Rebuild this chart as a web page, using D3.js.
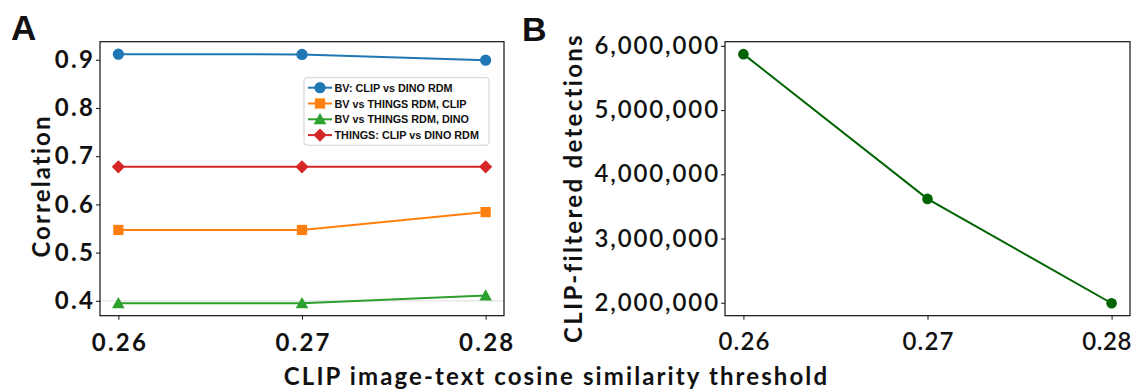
<!DOCTYPE html>
<html>
<head>
<meta charset="utf-8">
<script src="https://cdn.jsdelivr.net/npm/d3@7"></script>
<style>
  html, body { margin: 0; padding: 0; background: #fff; }
  svg { display: block; }
  .tick text { fill: #111; }
</style>
</head>
<body>
<svg id="fig" width="1133" height="392"></svg>
<script>
// Thresholds on the CLIP image-text cosine similarity
const thresholds = [0.26, 0.27, 0.28];

// Panel A: RDM correlations per threshold
const bvClipVsDino = [0.9116, 0.911, 0.899];
const bvVsThingsClip = [0.547, 0.547, 0.584];
const bvVsThingsDino = [0.395, 0.395, 0.411];
const thingsClipVsDino = [0.678, 0.678, 0.678];

const seriesNames = [
  "BV: CLIP vs DINO RDM",
  "BV vs THINGS RDM, CLIP",
  "BV vs THINGS RDM, DINO",
  "THINGS: CLIP vs DINO RDM"
];

// Panel B: number of detections that survive the CLIP filter
const detections = [5871000, 3617000, 1992000];

const xTickLabels = ["0.26", "0.27", "0.28"];
const yTicksA = [0.4, 0.5, 0.6, 0.7, 0.8, 0.9];
const yTicksB = [2000000, 3000000, 4000000, 5000000, 6000000];

const svg = d3.select("#fig");
const tickFont = "Lato, 'DejaVu Sans', sans-serif";

// padded extent, 5% on each side
function padded(vals) {
  const [lo, hi] = d3.extent(vals);
  const m = (hi - lo) * 0.05;
  return [lo - m, hi + m];
}

const plotTop = 41.7, plotBottom = 315.7;
const xDomain = padded(thresholds);

function frame(g, x0, x1) {
  g.append("rect")
    .attr("x", x0).attr("y", plotTop)
    .attr("width", x1 - x0).attr("height", plotBottom - plotTop)
    .attr("fill", "none").attr("stroke", "#111").attr("stroke-width", 1.2);
}

// ---------- Panel A ----------
const xA = d3.scaleLinear().domain(xDomain).range([100, 504]);
const yA = d3.scaleLinear()
  .domain(padded([].concat(bvClipVsDino, bvVsThingsClip, bvVsThingsDino, thingsClipVsDino)))
  .range([plotBottom, plotTop]);

const gA = svg.append("g");

// faint reference line at 0.4
gA.append("line")
  .attr("x1", 100).attr("x2", 504)
  .attr("y1", yA(0.4)).attr("y2", yA(0.4))
  .attr("stroke", "#e3e3e3").attr("stroke-width", 1.2);

const colors = ["#1f77b4", "#ff7f0e", "#2ca02c", "#d62728"];
const shapes = [d3.symbolCircle, d3.symbolSquare, d3.symbolTriangle, d3.symbolDiamond];
const sizes = [100, 105, 95, 110];
const seriesA = [bvClipVsDino, bvVsThingsClip, bvVsThingsDino, thingsClipVsDino];

function markerPath(i) {
  if (i === 3) {
    // diamond: square rotated 45 degrees
    const r = 6.6;
    return `M0,${-r}L${r},0L0,${r}L${-r},0Z`;
  }
  if (i === 2) {
    const r = 6.3;
    return `M0,${-r}L${r},${r * 0.8}L${-r},${r * 0.8}Z`;
  }
  return d3.symbol().type(shapes[i]).size(sizes[i])();
}

const lineA = d3.line().x((d, i) => xA(thresholds[i])).y(d => yA(d));

seriesA.forEach((vals, s) => {
  const g = gA.append("g");
  g.append("path")
    .attr("d", lineA(vals))
    .attr("fill", "none").attr("stroke", colors[s]).attr("stroke-width", 2);
  g.selectAll("path.m").data(vals).join("path")
    .attr("class", "m")
    .attr("d", markerPath(s))
    .attr("transform", (d, i) => `translate(${xA(thresholds[i])},${yA(d)})`)
    .attr("fill", colors[s]);
});

frame(gA, 100, 504);

const axAx = gA.append("g").attr("transform", `translate(0,${plotBottom})`)
  .call(d3.axisBottom(xA).tickValues(thresholds).tickFormat((d, i) => xTickLabels[i])
    .tickSize(4).tickPadding(14));
const axAy = gA.append("g").attr("transform", "translate(100,0)")
  .call(d3.axisLeft(yA).tickValues(yTicksA).tickFormat(d3.format(".1f"))
    .tickSize(4).tickPadding(1));
[axAx, axAy].forEach(ax => {
  ax.select(".domain").remove();
  ax.selectAll(".tick line").attr("stroke", "#111").attr("stroke-width", 1);
  ax.selectAll(".tick text")
    .attr("font-family", tickFont).attr("font-weight", "bold").attr("font-size", 24)
    .attr("letter-spacing", 2.2);
});
axAx.selectAll(".tick text").attr("dx", 1.1);

// legend
const leg = gA.append("g").attr("transform", "translate(304,77.7)");
leg.append("rect")
  .attr("width", 185).attr("height", 67.5).attr("rx", 3)
  .attr("fill", "#fff").attr("fill-opacity", 0.8)
  .attr("stroke", "#d0d0d0").attr("stroke-width", 1);
seriesNames.forEach((name, i) => {
  const cy = 10 + i * 15.8;
  const r = leg.append("g").attr("transform", `translate(0,${cy})`);
  r.append("line").attr("x1", 4).attr("x2", 28).attr("y1", 0).attr("y2", 0)
    .attr("stroke", colors[i]).attr("stroke-width", 2);
  r.append("path").attr("d", markerPath(i)).attr("transform", "translate(16,0)")
    .attr("fill", colors[i]);
  r.append("text").attr("x", 30.5).attr("y", 4)
    .attr("font-family", "'Liberation Sans', Arial, sans-serif")
    .attr("font-weight", "bold").attr("font-size", 10.8).attr("fill", "#111")
    .text(name);
});

const labelStyle = sel => sel
  .attr("text-anchor", "middle")
  .attr("font-family", tickFont).attr("font-weight", "bold").attr("font-size", 24)
  .attr("letter-spacing", 2.1).attr("fill", "#111");

gA.append("text")
  .attr("transform", "translate(50,186) rotate(-90)")
  .call(labelStyle).text("Correlation");

svg.append("text").attr("x", 11).attr("y", 40)
  .attr("font-family", "'Liberation Sans', Arial, sans-serif")
  .attr("font-weight", "bold").attr("font-size", 35).attr("fill", "#111").text("A");

// ---------- Panel B ----------
const xB = d3.scaleLinear().domain(xDomain).range([725, 1130]);
const yB = d3.scaleLinear().domain(padded(detections)).range([plotBottom, plotTop]);
const gB = svg.append("g");

gB.append("path")
  .attr("d", d3.line().x((d, i) => xB(thresholds[i])).y(d => yB(d))(detections))
  .attr("fill", "none").attr("stroke", "#006400").attr("stroke-width", 2);
gB.selectAll("circle").data(detections).join("circle")
  .attr("cx", (d, i) => xB(thresholds[i])).attr("cy", d => yB(d))
  .attr("r", 5.3).attr("fill", "#006400");

frame(gB, 725, 1130);

const axBx = gB.append("g").attr("transform", `translate(0,${plotBottom})`)
  .call(d3.axisBottom(xB).tickValues(thresholds).tickFormat((d, i) => xTickLabels[i])
    .tickSize(4).tickPadding(13));
const axBy = gB.append("g").attr("transform", "translate(725,0)")
  .call(d3.axisLeft(yB).tickValues(yTicksB).tickFormat(d3.format(","))
    .tickSize(4).tickPadding(1));
[axBx, axBy].forEach(ax => {
  ax.select(".domain").remove();
  ax.selectAll(".tick line").attr("stroke", "#111").attr("stroke-width", 1);
  ax.selectAll(".tick text")
    .attr("font-family", tickFont).attr("font-weight", 600).attr("font-size", 24)
    .attr("letter-spacing", 1.9);
});
axBx.selectAll(".tick text").attr("letter-spacing", 1.2).attr("dx", 0.6);
// keep the last label inside the figure edge
axBx.selectAll(".tick:last-of-type text").attr("letter-spacing", 0.6).attr("dx", -5);

gB.append("text")
  .attr("transform", "translate(582,188) rotate(-90)")
  .call(labelStyle).attr("letter-spacing", 2.3).text("CLIP-filtered detections");

svg.append("text").attr("x", 522).attr("y", 41)
  .attr("font-family", "'Liberation Sans', Arial, sans-serif")
  .attr("font-weight", "bold").attr("font-size", 34).attr("fill", "#111").text("B");

// shared x label
svg.append("text").attr("x", 556.5).attr("y", 385)
  .call(labelStyle).text("CLIP image-text cosine similarity threshold");
</script>
</body>
</html>
